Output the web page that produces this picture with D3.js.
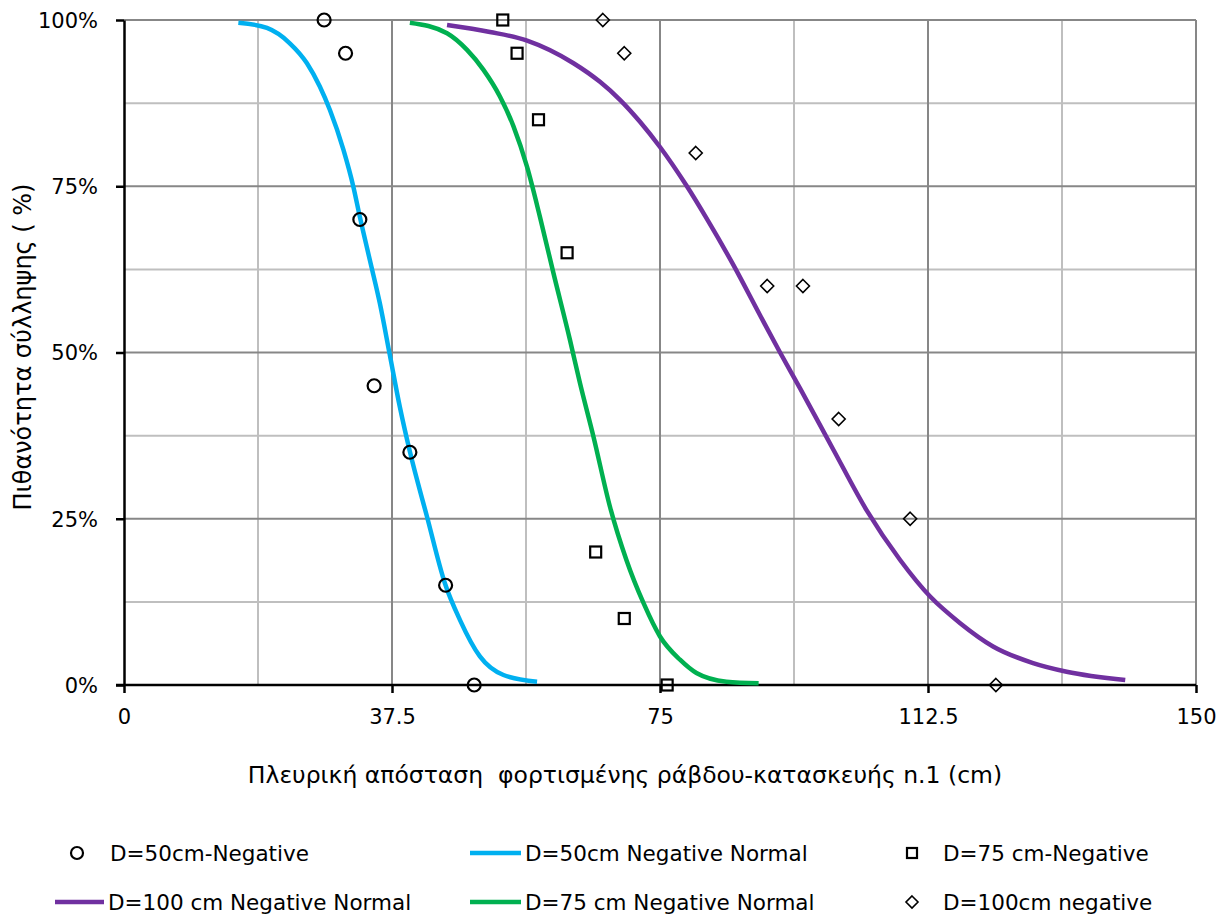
<!DOCTYPE html>
<html>
<head>
<meta charset="utf-8">
<script src="https://cdn.jsdelivr.net/npm/d3@7"></script>
<style>
  html, body { margin: 0; padding: 0; background: #fff; }
  svg { display: block; font-family: "DejaVu Sans", sans-serif; }
</style>
</head>
<body>
<svg id="chart" width="1226" height="916"></svg>
<script>
// ---------- DATA ----------
const xTicks = [0, 37.5, 75, 112.5, 150];
const xMinorGrid = [18.75, 56.25, 93.75, 131.25];
const yTicks = [0, 25, 50, 75, 100];
const yMinorGrid = [12.5, 37.5, 62.5, 87.5];

// Observed points (x in cm, y in %)
const d50X = [28, 31, 33, 35, 40, 45, 49];
const d50Y = [100, 95, 70, 45, 35, 15, 0];

const d75X = [53, 55, 58, 62, 66, 70, 76];
const d75Y = [100, 95, 85, 65, 20, 10, 0];

const d100X = [67, 70, 80, 90, 95, 100, 110, 122];
const d100Y = [100, 95, 80, 60, 60, 40, 25, 0];

// Fitted "Normal" curves
const n50X = [16, 20, 23.2, 25.6, 27.4, 28.8, 30.7, 32.1, 33, 34.4, 35.8, 37.2, 38.6, 40, 42.4, 44.9, 47, 49.8, 53.1, 57.8];
const n50Y = [99.6, 98.8, 96.5, 93.5, 90, 86.5, 80.5, 74.9, 70.4, 63.9, 57.4, 49.6, 41.8, 35.1, 25.3, 15.3, 9.8, 4.3, 1.5, 0.5];

const n75X = [40, 45.2, 48, 50.3, 52.6, 54.5, 56.4, 58.2, 60.1, 62.4, 63.8, 65.7, 68, 70.3, 72.7, 75, 77.8, 80.1, 84.3, 88.8];
const n75Y = [99.6, 98, 95.5, 92.5, 88.5, 84, 77.9, 70.4, 61.9, 51.9, 45.4, 37.3, 26.8, 18.8, 12.3, 7.3, 3.8, 1.8, 0.5, 0.26];

const n100X = [45.2, 51.2, 56.4, 62.9, 66.6, 69.4, 72.2, 75, 78.7, 81.5, 85.3, 89, 91.8, 94.6, 99.3, 103.9, 108.6, 112.8, 117, 121.6, 127.2, 131.9, 140.1];
const n100Y = [99.25, 98.2, 96.9, 93.5, 90.7, 88, 84.7, 80.9, 75.1, 70.2, 63.1, 55.6, 50.0, 44.6, 35.3, 26.3, 18.8, 13.3, 9.3, 5.8, 3.3, 2.0, 0.75];

const seriesNames = [
  "D=50cm-Negative", "D=50cm Negative Normal", "D=75 cm-Negative",
  "D=100 cm Negative Normal", "D=75 cm Negative Normal", "D=100cm negative"
];
const xTitle = "Πλευρική απόσταση  φορτισμένης ράβδου-κατασκευής n.1 (cm)";
const yTitle = "Πιθανότητα σύλληψης ( %)";

// ---------- LAYOUT ----------
const svg = d3.select("#chart");
const L = 124, R = 1196, T = 20, B = 685;
const x = d3.scaleLinear().domain([0, 150]).range([L, R]);
const y = d3.scaleLinear().domain([0, 100]).range([B, T]);

const zip = (xs, ys) => xs.map((v, i) => ({x: v, y: ys[i]}));

// Grid
const g = svg.append("g");
g.selectAll(".vminor").data(xMinorGrid).join("line")
  .attr("x1", d => x(d)).attr("x2", d => x(d)).attr("y1", T).attr("y2", B)
  .attr("stroke", "#bfbfbf").attr("stroke-width", 2);
g.selectAll(".hminor").data(yMinorGrid).join("line")
  .attr("x1", L).attr("x2", R).attr("y1", d => y(d)).attr("y2", d => y(d))
  .attr("stroke", "#bfbfbf").attr("stroke-width", 2);
g.selectAll(".vmajor").data(xTicks.slice(1)).join("line")
  .attr("x1", d => x(d)).attr("x2", d => x(d)).attr("y1", T).attr("y2", B)
  .attr("stroke", "#878787").attr("stroke-width", 2);
g.selectAll(".hmajor").data(yTicks.slice(1)).join("line")
  .attr("x1", L).attr("x2", R).attr("y1", d => y(d)).attr("y2", d => y(d))
  .attr("stroke", "#878787").attr("stroke-width", 2);

// Axes
const xAxis = svg.append("g").attr("transform", `translate(0,${B})`)
  .call(d3.axisBottom(x).tickValues(xTicks).tickSize(8).tickSizeOuter(0).tickPadding(16)
        .tickFormat(d => d3.format("")(d)));
const yAxis = svg.append("g").attr("transform", `translate(${L},0)`)
  .call(d3.axisLeft(y).tickValues(yTicks).tickSize(8).tickSizeOuter(0).tickPadding(18)
        .tickFormat(d => d + "%"));
[xAxis, yAxis].forEach(a => {
  a.select(".domain").attr("stroke", "#000").attr("stroke-width", 2.5);
  a.selectAll(".tick line").attr("stroke", "#000").attr("stroke-width", 2.5);
  a.selectAll(".tick text").attr("fill", "#000").attr("font-size", 21)
    .attr("font-family", "'DejaVu Sans', sans-serif");
});
xAxis.select(".domain").attr("d", `M${L - 8},0H${R}`);
yAxis.selectAll(".tick text").attr("dy", "0.35em");

// Lines
const line = d3.line().x(d => x(d.x)).y(d => y(d.y)).curve(d3.curveMonotoneX);
const curves = [
  {xs: n50X, ys: n50Y, color: "#00b0f0"},
  {xs: n75X, ys: n75Y, color: "#00b050"},
  {xs: n100X, ys: n100Y, color: "#7030a0"}
];
curves.forEach(c => {
  svg.append("path").datum(zip(c.xs, c.ys))
    .attr("d", line).attr("fill", "none").attr("stroke", c.color)
    .attr("stroke-width", 4.5).attr("stroke-linejoin", "round");
});

// Markers
svg.append("g").selectAll("circle").data(zip(d50X, d50Y)).join("circle")
  .attr("cx", d => x(d.x)).attr("cy", d => y(d.y)).attr("r", 6.5)
  .attr("fill", "none").attr("stroke", "#000").attr("stroke-width", 2.2);
svg.append("g").selectAll("rect").data(zip(d75X, d75Y)).join("rect")
  .attr("x", d => x(d.x) - 5.5).attr("y", d => y(d.y) - 5.5).attr("width", 11).attr("height", 11)
  .attr("fill", "none").attr("stroke", "#000").attr("stroke-width", 2.2);
const diamond = (cx, cy, s) => `M${cx},${cy - s}L${cx + s},${cy}L${cx},${cy + s}L${cx - s},${cy}Z`;
svg.append("g").selectAll("path").data(zip(d100X, d100Y)).join("path")
  .attr("d", d => diamond(x(d.x), y(d.y), 6.5))
  .attr("fill", "none").attr("stroke", "#000").attr("stroke-width", 1.6);

// Axis titles
svg.append("text").attr("x", 625).attr("y", 783).attr("text-anchor", "middle")
  .attr("font-size", 23.5).attr("fill", "#000").attr("xml:space", "preserve")
  .style("white-space", "pre").text(xTitle);
svg.append("text").attr("transform", "translate(31,347) rotate(-90)").attr("text-anchor", "middle")
  .attr("font-size", 24).attr("fill", "#000").text(yTitle);

// Legend
const leg = svg.append("g").attr("font-size", 21.5).attr("fill", "#000");
const legItems = [
  {type: "circle", mx: 77, my: 853, tx: 110},
  {type: "line", color: "#00b0f0", mx: 470, mx2: 521, my: 853, tx: 525},
  {type: "square", mx: 912, my: 853, tx: 943},
  {type: "line", color: "#7030a0", mx: 55, mx2: 104, my: 902, tx: 108},
  {type: "line", color: "#00b050", mx: 470, mx2: 521, my: 902, tx: 525},
  {type: "diamond", mx: 912, my: 902, tx: 943}
];
legItems.forEach((it, i) => {
  if (it.type === "circle") {
    leg.append("circle").attr("cx", it.mx).attr("cy", it.my).attr("r", 6)
      .attr("fill", "none").attr("stroke", "#000").attr("stroke-width", 2.2);
  } else if (it.type === "square") {
    leg.append("rect").attr("x", it.mx - 5).attr("y", it.my - 5).attr("width", 10).attr("height", 10)
      .attr("fill", "none").attr("stroke", "#000").attr("stroke-width", 2.2);
  } else if (it.type === "diamond") {
    leg.append("path").attr("d", diamond(it.mx, it.my, 6))
      .attr("fill", "none").attr("stroke", "#000").attr("stroke-width", 1.6);
  } else {
    leg.append("line").attr("x1", it.mx).attr("x2", it.mx2).attr("y1", it.my).attr("y2", it.my)
      .attr("stroke", it.color).attr("stroke-width", 4.5);
  }
  leg.append("text").attr("x", it.tx).attr("y", it.my).attr("dy", "0.35em").text(seriesNames[i]);
});
</script>
</body>
</html>
